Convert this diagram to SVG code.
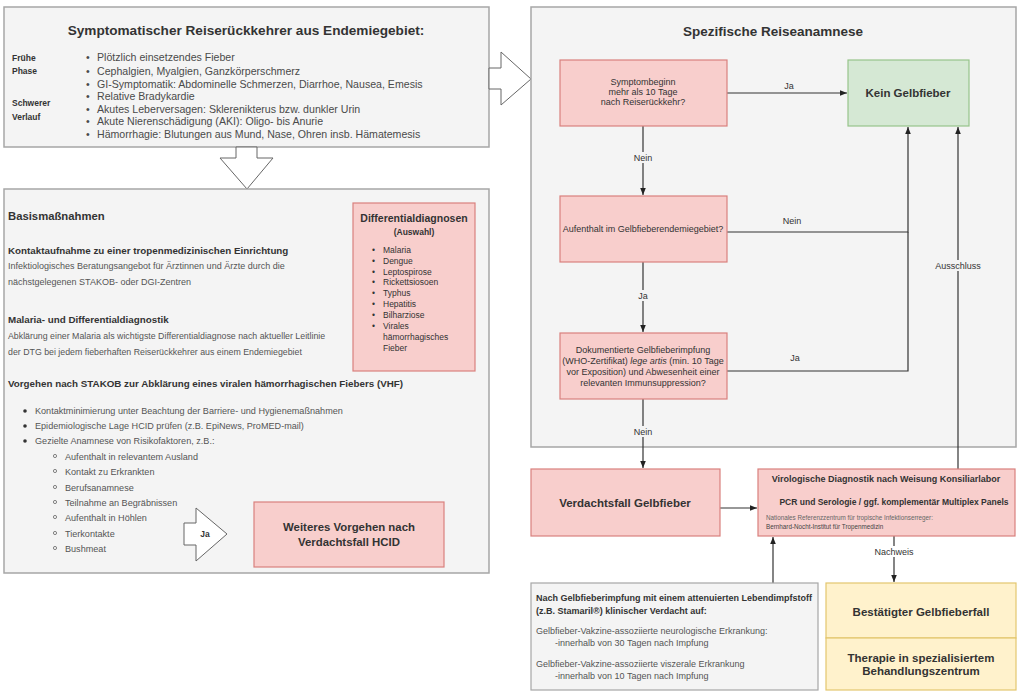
<svg xmlns="http://www.w3.org/2000/svg" width="1024" height="698" viewBox="0 0 1024 698">
<defs>
<marker id="ah" viewBox="0 0 10 10" refX="10" refY="5" markerWidth="7" markerHeight="7" orient="auto" markerUnits="userSpaceOnUse"><path d="M0,1 L10,5 L0,9 Z" fill="#222"/></marker>
</defs>
<style>
text{font-family:"Liberation Sans",Arial,sans-serif;}
.panel{fill:#f4f4f4;stroke:#a6a6a6;stroke-width:1.5;}
.red{fill:#f8cecc;stroke:#d9807d;stroke-width:1.2;}
.green{fill:#d5e8d4;stroke:#97c48a;stroke-width:1.2;}
.yellow{fill:#fff2cc;stroke:#e3c66e;stroke-width:1.2;}
.gray{fill:#f4f4f4;stroke:#a6a6a6;stroke-width:1.2;}
.blk{fill:#fff;stroke:#666;stroke-width:1;}
.conn{fill:none;stroke:#333;stroke-width:1.2;}
.t{fill:#333;}
.b{font-weight:bold;}
.g{fill:#555;}
.lbl{font-size:9px;fill:#333;}
.lb{fill:#f4f4f4;}
</style>

<g id="panel-top">
<rect class="panel" x="4" y="7" width="485" height="140"/>
<text class="t b" x="246" y="35" font-size="13.6" text-anchor="middle">Symptomatischer Reiserückkehrer aus Endemiegebiet:</text>
<text class="t b" font-size="8.5" x="12" y="61">Frühe</text>
<text class="t b" font-size="8.5" x="12" y="74">Phase</text>
<text class="t b" font-size="8.5" x="12" y="106">Schwerer</text>
<text class="t b" font-size="8.5" x="12" y="120">Verlauf</text>
<g font-size="10.6" fill="#4a4a4a">
<text x="86" y="61">•</text><text x="97" y="61">Plötzlich einsetzendes Fieber</text>
<text x="86" y="75">•</text><text x="97" y="75">Cephalgien, Myalgien, Ganzkörperschmerz</text>
<text x="86" y="88">•</text><text x="97" y="88">GI-Symptomatik: Abdominelle Schmerzen, Diarrhoe, Nausea, Emesis</text>
<text x="86" y="100">•</text><text x="97" y="100">Relative Bradykardie</text>
<text x="86" y="113">•</text><text x="97" y="113">Akutes Leberversagen: Sklerenikterus bzw. dunkler Urin</text>
<text x="86" y="125">•</text><text x="97" y="125">Akute Nierenschädigung (AKI): Oligo- bis Anurie</text>
<text x="86" y="138">•</text><text x="97" y="138">Hämorrhagie: Blutungen aus Mund, Nase, Ohren insb. Hämatemesis</text>
</g>
</g>

<g id="arrow-down-big">
<path class="blk" d="M236,147 L257,147 L257,158 L273,158 L247,189 L220,158 L236,158 Z"/>
</g>
<g id="arrow-right-big">
<path class="blk" d="M489,68 L501,68 L501,52 L531,79 L501,105 L501,89 L489,89 Z"/>
</g>

<g id="panel-basis">
<rect class="panel" x="4" y="189" width="485" height="384"/>
<text class="t b" x="8" y="220" font-size="11.3">Basismaßnahmen</text>
<text class="t b" x="8" y="254" font-size="9.8">Kontaktaufnahme zu einer tropenmedizinischen Einrichtung</text>
<text class="g" x="8" y="269" font-size="9">Infektiologisches Beratungsangebot für Ärztinnen und Ärzte durch die</text>
<text class="g" x="8" y="285" font-size="9">nächstgelegenen STAKOB- oder DGI-Zentren</text>
<text class="t b" x="8" y="323" font-size="9.8">Malaria- und Differentialdiagnostik</text>
<text class="g" x="8" y="339" font-size="8.8">Abklärung einer Malaria als wichtigste Differentialdiagnose nach aktueller Leitlinie</text>
<text class="g" x="8" y="355" font-size="8.8">der DTG bei jedem fieberhaften Reiserückkehrer aus einem Endemiegebiet</text>
<text class="t b" x="8" y="387" font-size="9.8">Vorgehen nach STAKOB zur Abklärung eines viralen hämorrhagischen Fiebers (VHF)</text>
<g font-size="9.1" fill="#555">
<circle cx="25" cy="411" r="1.8" fill="#333"/><text x="35" y="414">Kontaktminimierung unter Beachtung der Barriere- und Hygienemaßnahmen</text>
<circle cx="25" cy="426" r="1.8" fill="#333"/><text x="35" y="429">Epidemiologische Lage HCID prüfen (z.B. EpiNews, ProMED-mail)</text>
<circle cx="25" cy="441" r="1.8" fill="#333"/><text x="35" y="444">Gezielte Anamnese von Risikofaktoren, z.B.:</text>
<g fill="none" stroke="#666" stroke-width="0.8">
<circle cx="55" cy="456" r="1.6"/><circle cx="55" cy="471" r="1.6"/><circle cx="55" cy="487" r="1.6"/><circle cx="55" cy="502" r="1.6"/><circle cx="55" cy="517" r="1.6"/><circle cx="55" cy="533" r="1.6"/><circle cx="55" cy="548" r="1.6"/>
</g>
<text x="65" y="460">Aufenthalt in relevantem Ausland</text>
<text x="65" y="475">Kontakt zu Erkrankten</text>
<text x="65" y="491">Berufsanamnese</text>
<text x="65" y="506">Teilnahme an Begräbnissen</text>
<text x="65" y="521">Aufenthalt in Höhlen</text>
<text x="65" y="537">Tierkontakte</text>
<text x="65" y="552">Bushmeat</text>
</g>
</g>

<g id="diff-box">
<rect class="red" x="353" y="203" width="122" height="168"/>
<text class="t b" x="414" y="222" font-size="10.5" text-anchor="middle">Differentialdiagnosen</text>
<text class="t b" x="414" y="235" font-size="8.5" text-anchor="middle">(Auswahl)</text>
<g font-size="8.5" fill="#333">
<text x="372" y="253">•</text><text x="383" y="253">Malaria</text>
<text x="372" y="264">•</text><text x="383" y="264">Dengue</text>
<text x="372" y="275">•</text><text x="383" y="275">Leptospirose</text>
<text x="372" y="285">•</text><text x="383" y="285">Rickettsiosoen</text>
<text x="372" y="296">•</text><text x="383" y="296">Typhus</text>
<text x="372" y="307">•</text><text x="383" y="307">Hepatitis</text>
<text x="372" y="318">•</text><text x="383" y="318">Bilharziose</text>
<text x="372" y="329">•</text><text x="383" y="329">Virales</text>
<text x="383" y="340">hämorrhagisches</text>
<text x="383" y="351">Fieber</text>
</g>
</g>

<g id="arrow-ja-hcid">
<path class="blk" d="M184,523 L196,523 L196,508 L227,534 L196,561 L196,545 L184,545 Z"/>
<text class="t b" x="205" y="537" font-size="8.5" text-anchor="middle">Ja</text>
</g>

<g id="hcid-box">
<rect class="red" x="254" y="502" width="190" height="65"/>
<text class="t b" x="349" y="531" font-size="11.4" text-anchor="middle">Weiteres Vorgehen nach</text>
<text class="t b" x="349" y="546" font-size="11.4" text-anchor="middle">Verdachtsfall HCID</text>
</g>

<g id="panel-reise">
<rect class="panel" x="531" y="7" width="485" height="440"/>
<text class="t b" x="773" y="36" font-size="13.5" text-anchor="middle">Spezifische Reiseanamnese</text>
</g>

<g id="connectors">
<path class="conn" d="M727,93 L847,93" marker-end="url(#ah)"/>
<path class="conn" d="M643,126 L643,195" marker-end="url(#ah)"/>
<path class="conn" d="M727,232 L908,232 L908,127" marker-end="url(#ah)"/>
<path class="conn" d="M643,262 L643,332" marker-end="url(#ah)"/>
<path class="conn" d="M727,371 L908,371 L908,232"/>
<path class="conn" d="M643,399 L643,468" marker-end="url(#ah)"/>
<path class="conn" d="M958,469 L958,127" marker-end="url(#ah)"/>
<path class="conn" d="M720,508 L757,508" marker-end="url(#ah)"/>
<path class="conn" d="M894,536 L894,582" marker-end="url(#ah)"/>
<path class="conn" d="M773,583 L773,537" marker-end="url(#ah)"/>
<text class="lbl" x="789" y="89" text-anchor="middle">Ja</text>
<rect class="lb" x="630" y="152" width="27" height="11"/>
<text class="lbl" x="643" y="161" text-anchor="middle">Nein</text>
<text class="lbl" x="792" y="224" text-anchor="middle">Nein</text>
<rect class="lb" x="634" y="290" width="18" height="11"/>
<text class="lbl" x="643" y="299" text-anchor="middle">Ja</text>
<text class="lbl" x="795" y="361" text-anchor="middle">Ja</text>
<rect class="lb" x="630" y="426" width="27" height="11"/>
<text class="lbl" x="643" y="435" text-anchor="middle">Nein</text>
<rect class="lb" x="935" y="260" width="46" height="11"/>
<text class="lbl" x="958" y="269" text-anchor="middle">Ausschluss</text>
<rect x="873" y="546" width="42" height="11" fill="#fff"/>
<text class="lbl" x="894" y="555" text-anchor="middle">Nachweis</text>
</g>

<g id="q1">
<rect class="red" x="560" y="60" width="167" height="66"/>
<g font-size="9" fill="#333" text-anchor="middle">
<text x="643" y="85">Symptombeginn</text>
<text x="643" y="95">mehr als 10 Tage</text>
<text x="643" y="105">nach Reiserückkehr?</text>
</g>
</g>

<g id="kein">
<rect class="green" x="848" y="60" width="121" height="66"/>
<text class="t b" x="908" y="97" font-size="11.5" text-anchor="middle">Kein Gelbfieber</text>
</g>

<g id="q2">
<rect class="red" x="560" y="196" width="167" height="66"/>
<text x="643" y="232" font-size="9" fill="#333" text-anchor="middle">Aufenthalt im Gelbfieberendemiegebiet?</text>
</g>

<g id="q3">
<rect class="red" x="560" y="333" width="167" height="66"/>
<g font-size="9" fill="#333" text-anchor="middle">
<text x="643" y="353">Dokumentierte Gelbfieberimpfung</text>
<text x="643" y="364">(WHO-Zertifikat) <tspan font-style="italic">lege artis</tspan> (min. 10 Tage</text>
<text x="643" y="375">vor Exposition) und Abwesenheit einer</text>
<text x="643" y="386">relevanten Immunsuppression?</text>
</g>
</g>

<g id="verdacht">
<rect class="red" x="531" y="469" width="189" height="67"/>
<text class="t b" x="625" y="507" font-size="11.5" text-anchor="middle">Verdachtsfall Gelbfieber</text>
</g>

<g id="viro">
<rect class="red" x="758" y="469" width="257" height="67"/>
<text class="t b" x="886" y="482" font-size="9" text-anchor="middle">Virologische Diagnostik nach Weisung Konsiliarlabor</text>
<text class="t b" x="894" y="505" font-size="8.5" text-anchor="middle">PCR und Serologie / ggf. komplementär Multiplex Panels</text>
<text x="766" y="520" font-size="6.3" fill="#666">Nationales Referenzzentrum für tropische Infektionserreger:</text>
<text x="766" y="529" font-size="6.3" fill="#444">Bernhard-Nocht-Institut für Tropenmedizin</text>
</g>

<g id="impf">
<rect class="gray" x="531" y="583" width="287" height="107"/>
<text class="t b" x="536" y="601" font-size="9">Nach Gelbfieberimpfung mit einem attenuierten Lebendimpfstoff</text>
<text class="t b" x="536" y="614" font-size="9">(z.B. Stamaril®) klinischer Verdacht auf:</text>
<g font-size="9" fill="#555">
<text x="536" y="634">Gelbfieber-Vakzine-assoziierte neurologische Erkrankung:</text>
<text x="555" y="646">-innerhalb von 30 Tagen nach Impfung</text>
<text x="536" y="667">Gelbfieber-Vakzine-assoziierte viszerale Erkrankung</text>
<text x="555" y="679">-innerhalb von 10 Tagen nach Impfung</text>
</g>
</g>

<g id="bestaetigt">
<rect class="yellow" x="826" y="583" width="190" height="55"/>
<text class="t b" x="921" y="616" font-size="11.5" text-anchor="middle">Bestätigter Gelbfieberfall</text>
</g>
<g id="therapie">
<rect class="yellow" x="826" y="638" width="190" height="52"/>
<text class="t b" x="921" y="662" font-size="11.5" text-anchor="middle">Therapie in spezialisiertem</text>
<text class="t b" x="921" y="675" font-size="11.5" text-anchor="middle">Behandlungszentrum</text>
</g>
</svg>
